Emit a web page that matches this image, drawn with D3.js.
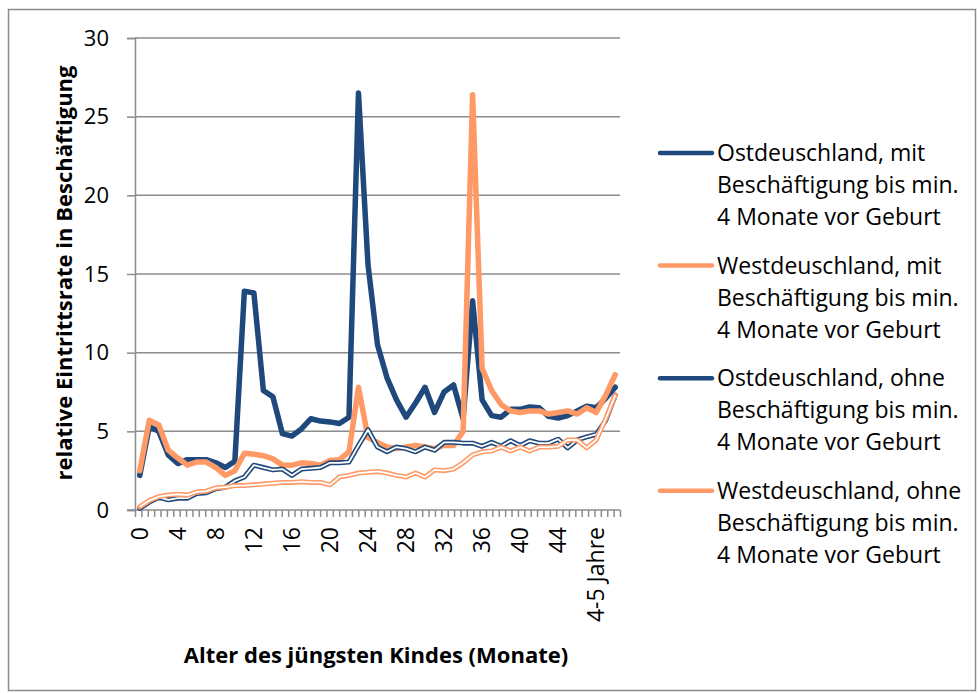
<!DOCTYPE html>
<html>
<head>
<meta charset="utf-8">
<script src="https://cdn.jsdelivr.net/npm/d3@7/dist/d3.min.js"></script>
<style>
  body { margin: 0; background: #fff; }
  text { font-family: "Open Sans", sans-serif; fill: #000; }
</style>
</head>
<body>
<svg id="chart" width="978" height="693"></svg>
<script>
// categories: months 0..47, then "4-5 Jahre" and two unlabeled tail categories
const categories = ["0","1","2","3","4","5","6","7","8","9","10","11","12","13","14","15",
  "16","17","18","19","20","21","22","23","24","25","26","27","28","29","30","31",
  "32","33","34","35","36","37","38","39","40","41","42","43","44","45","46","47",
  "4-5 Jahre","",""];

const yTicks = [0, 5, 10, 15, 20, 25, 30];

const ostMit = [2.2,5.3,5.0,3.5,2.95,3.2,3.2,3.2,3.0,2.7,3.1,13.9,13.8,7.6,7.2,4.85,
  4.7,5.15,5.8,5.65,5.6,5.5,5.9,26.5,15.6,10.5,8.4,7.0,5.9,6.8,7.8,6.2,
  7.5,7.95,5.8,13.3,7.0,6.0,5.9,6.4,6.4,6.55,6.5,5.95,5.85,6.0,6.3,6.6,
  6.5,7.1,7.8];
const westMit = [2.5,5.7,5.4,3.8,3.3,2.85,3.05,3.05,2.7,2.2,2.5,3.6,3.55,3.45,3.25,2.85,
  2.85,3.0,2.95,2.85,3.15,3.2,3.7,7.8,4.6,4.3,4.0,3.9,4.0,4.1,4.0,3.9,
  4.1,4.1,5.0,26.4,9.0,7.6,6.7,6.3,6.2,6.3,6.3,6.1,6.2,6.3,6.1,6.5,
  6.2,7.3,8.6];
const ostOhne = [0.1,0.5,0.8,0.65,0.75,0.75,1.05,1.1,1.35,1.45,1.85,2.1,2.85,2.7,2.55,2.6,
  2.2,2.6,2.65,2.7,3.0,3.0,3.05,4.1,5.1,4.0,3.7,4.0,3.9,3.7,4.0,3.8,
  4.3,4.3,4.25,4.25,4.05,4.3,4.05,4.4,4.1,4.4,4.25,4.25,4.5,3.95,4.45,4.65,
  4.8,5.7,7.3];
const westOhne = [0.2,0.6,0.85,0.95,1.0,0.95,1.15,1.2,1.4,1.45,1.55,1.55,1.6,1.65,1.7,1.75,
  1.75,1.8,1.75,1.75,1.6,2.1,2.2,2.35,2.4,2.45,2.35,2.2,2.1,2.35,2.1,2.55,
  2.5,2.6,3.0,3.5,3.7,3.75,4.0,3.75,4.0,3.75,4.0,4.0,4.05,4.45,4.45,3.95,
  4.45,5.8,7.3];

const seriesNames = [
  ["Ostdeuschland, mit", "Beschäftigung bis min.", "4 Monate vor Geburt"],
  ["Westdeuschland, mit", "Beschäftigung bis min.", "4 Monate vor Geburt"],
  ["Ostdeuschland, ohne", "Beschäftigung bis min.", "4 Monate vor Geburt"],
  ["Westdeuschland, ohne", "Beschäftigung bis min.", "4 Monate vor Geburt"]
];

const blue = "#1f497d", orange = "#ff9966", grid = "#8c8c8c";

const series = [
  { values: ostMit, color: blue, double: false },
  { values: westMit, color: orange, double: false },
  { values: ostOhne, color: blue, double: true },
  { values: westOhne, color: orange, double: true }
];

const svg = d3.select("#chart");
const plot = { left: 135, right: 620, top: 38, bottom: 510 };

// outer frame
svg.append("rect")
  .attr("x", 8.5).attr("y", 9.5)
  .attr("width", 967).attr("height", 681)
  .attr("fill", "none").attr("stroke", grid).attr("stroke-width", 1.5);

const x = d3.scaleBand()
  .domain(d3.range(categories.length))
  .range([plot.left, plot.right]);

const y = d3.scaleLinear().domain([0, 30]).range([plot.bottom, plot.top]);

// gridlines
svg.append("g")
  .selectAll("line")
  .data(yTicks.slice(1))
  .enter().append("line")
  .attr("x1", plot.left).attr("x2", plot.right)
  .attr("y1", d => y(d)).attr("y2", d => y(d))
  .attr("stroke", grid).attr("stroke-width", 1.5);

// y axis
const yAxis = svg.append("g")
  .attr("transform", "translate(" + plot.left + ",0)")
  .call(d3.axisLeft(y).tickValues(yTicks).tickSize(8).tickPadding(18));
yAxis.select(".domain").attr("stroke", grid).attr("stroke-width", 1.5);
yAxis.selectAll(".tick line").attr("stroke", grid).attr("stroke-width", 1.5);
yAxis.selectAll("text").style("font-size", "22px").attr("font-family", null);

// x axis: small tick marks
const tickScale = d3.scaleLinear().domain([0, 76]).range([plot.left, plot.right]);
const xTicks = svg.append("g")
  .attr("transform", "translate(0," + plot.bottom + ")")
  .call(d3.axisBottom(tickScale).tickValues(d3.range(77)).tickSize(7).tickFormat(""));
xTicks.select(".domain").attr("stroke", grid).attr("stroke-width", 1.5)
  .attr("d", "M" + (plot.left - 8) + ",0H" + plot.right);
xTicks.selectAll(".tick line").attr("stroke", grid).attr("stroke-width", 1.5);

// x axis labels, every 4th category
const xAxis = svg.append("g")
  .attr("transform", "translate(0," + plot.bottom + ")")
  .call(d3.axisBottom(x)
    .tickValues(d3.range(0, categories.length, 4))
    .tickSize(0)
    .tickFormat(i => categories[i]));
xAxis.select(".domain").remove();
xAxis.selectAll("text")
  .style("font-size", "23px").attr("font-family", null)
  .attr("text-anchor", "end")
  .attr("transform", "rotate(-90)")
  .attr("x", -17).attr("y", 0).attr("dy", "0.35em");

// lines
const line = d3.line()
  .x((d, i) => x(i) + x.bandwidth() / 2)
  .y(d => y(d));

series.forEach(s => {
  svg.append("path")
    .datum(s.values)
    .attr("d", line)
    .attr("fill", "none")
    .attr("stroke", s.color)
    .attr("stroke-width", s.double ? 5 : 5.5)
    .attr("stroke-linejoin", "round")
    .attr("stroke-linecap", "round");
  if (s.double) {
    svg.append("path")
      .datum(s.values)
      .attr("d", line)
      .attr("fill", "none")
      .attr("stroke", "#fff")
      .attr("stroke-width", 1.8)
      .attr("stroke-linejoin", "round");
  }
});

// axis titles
svg.append("text")
  .attr("transform", "translate(72,273) rotate(-90)")
  .attr("text-anchor", "middle")
  .style("font-size", "22px").style("font-weight", "bold")
  .text("relative Eintrittsrate in Beschäftigung");

svg.append("text")
  .attr("x", 376).attr("y", 663)
  .attr("text-anchor", "middle")
  .style("font-size", "22px").style("font-weight", "bold")
  .text("Alter des jüngsten Kindes (Monate)");

// legend
const legend = svg.append("g");
series.forEach((s, k) => {
  const y0 = 153 + k * 112.6;
  legend.append("line")
    .attr("x1", 660).attr("x2", 712)
    .attr("y1", y0).attr("y2", y0)
    .attr("stroke", s.color).attr("stroke-width", 4.5)
    .attr("stroke-linecap", "round");
  const t = legend.append("text")
    .attr("x", 717).attr("y", y0)
    .style("font-size", "23px");
  seriesNames[k].forEach((str, j) => {
    t.append("tspan").attr("x", 717).attr("y", y0 + j * 32).attr("dy", "0.35em").text(str);
  });
});
</script>
</body>
</html>
